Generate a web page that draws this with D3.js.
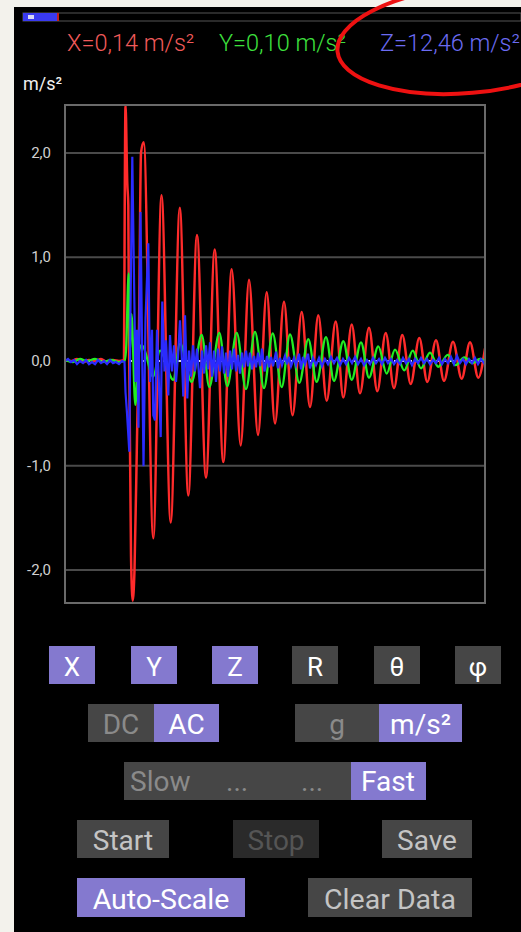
<!DOCTYPE html>
<html>
<head>
<meta charset="utf-8">
<script src="https://cdn.jsdelivr.net/npm/d3@7"></script>
<style>
  html, body { margin: 0; padding: 0; background: #f3f2ec; }
  svg { display: block; }
  text { font-family: Roboto, "Noto Sans", sans-serif; }
</style>
</head>
<body>
<svg id="chart" width="521" height="932"></svg>
<script>
// ---------------- data ----------------
// time in samples (10 ms each), acceleration in m/s²
const readouts = ["X=0,14 m/s²", "Y=0,10 m/s²", "Z=12,46 m/s²"];
const yUnit = "m/s²";
const yTicks = [-2, -1, 0, 1, 2];
const timeDomain = [0, 420];
const valueDomain = [-2.322, 2.457];

const redSamples = [
  [0,0.01],[6,0.0],[12,0.02],[18,-0.01],[24,0.01],[30,0.0],[36,0.02],[42,-0.01],[48,0.01],[54,0.0],[59,0.01],
  [59.7,1.45],[60.5,2.46],[62.3,1.7],[63.3,1.5],[64,0.2],[66,-1.86],[67.7,-2.3],[69.5,-2.0],[72,-0.74],[74,0.3],[76,2.0],[78.7,2.1],
  [88.3,-1.7],[96.5,1.59],[105.7,-1.55],[114.8,1.47],[123.3,-1.29],[132,1.21],[141,-1.12],[149.7,1.07],[158.3,-0.97],
  [166.7,0.88],[175.7,-0.81],[184,0.78],[193,-0.71],[201.7,0.66],[210,-0.6],[219,0.57],[227.5,-0.52],[236.7,0.47],
  [245,-0.44],[253.3,0.44],[261.7,-0.38],[270.7,0.38],[278.3,-0.35],[286.7,0.35],[295,-0.31],[304,0.32],[312.3,-0.29],
  [320.7,0.27],[329,-0.26],[337.3,0.25],[345.7,-0.22],[354.3,0.22],[362.3,-0.2],[371,0.2],[379,-0.19],[388,0.185],
  [396.7,-0.17],[405,0.18],[413.3,-0.16],[420,0.12]
];

const greenSamples = [
  [0,0.01],[8,-0.01],[15,0.02],[22,0.0],[30,0.02],[38,-0.01],[46,0.01],[54,-0.01],[59.5,0.0],
  [61,0.1],[63.7,0.84],[65,0.1],[66.5,0.45],[70.3,-0.42],[73,0.0],[76,0.15],[78,0.14],[88.3,-0.15],[95,0.1],
  [108.3,-0.18],[115,0.17],[126.7,-0.2],[136.7,0.25],[144.3,-0.25],[154.3,0.27],[162.3,-0.24],[171.7,0.27],
  [181,-0.27],[190,0.28],[199,-0.26],[207.7,0.265],[216.7,-0.25],[225,0.255],[234.3,-0.21],[243.3,0.21],
  [251.7,-0.2],[261,0.23],[269,-0.19],[278.3,0.19],[286.7,-0.18],[296,0.18],[304,-0.16],[313.3,0.14],
  [321.7,-0.12],[330,0.11],[339.3,-0.09],[347.7,0.10],[356,-0.07],[365,0.08],[373.3,-0.055],[382.7,0.06],
  [390.7,-0.04],[399.3,0.035],[407.3,-0.02],[415,0.02],[420,0.0]
];

const blueSamples = [
  [0,0.0],[3,0.02],[6,-0.01],[9,0.01],[12,-0.03],[15,0.0],[18,-0.02],[21,0.01],[24,-0.03],[27,-0.01],[30,-0.03],
  [33,0.01],[36,-0.02],[39,0.0],[42,-0.03],[45,0.01],[48,-0.02],[51,-0.01],[54,-0.03],[57,0.0],[59.5,-0.01],
  [60.5,-0.3],[62,-0.5],[64.3,-0.87],[65.5,0.5],[67.3,1.96],[69,0.8],[70.5,-0.2],[72,0.3],[73.5,-0.64],
  [75.5,1.43],[77,0.2],[78.5,-1.01],[80.5,0.4],[83.3,1.13],[85,-0.2],[87,0.3],[88.3,-0.52],[90,-0.57],
  [92,0.3],[93.5,-0.1],[95.7,-0.73],[97.3,0.57],[99.5,-0.1],[101,0.2],[103.3,-0.33],[105,0.25],[107,-0.1],
  [109,0.15],[111,-0.2],[113,0.05],[115,0.39],[117,0.0],[118.3,-0.34],[120,0.44],[122.3,-0.36],[124,0.1],
  [126,-0.15],[128,0.15],[130,-0.1],[132,0.12],[135,-0.26],[137,0.1],[139,-0.12],[141,0.15],[143,-0.08],
  [145,0.18],[147,-0.15],[149,0.1],[151,-0.2],[153,0.12],[155,-0.1],[157,0.14],[159,-0.12],[161,0.08],
  [163,-0.15],[165,0.1],[167,-0.08],[169,0.12],[171,-0.1],[173,0.06],[175,-0.12],[177,0.08],[179,-0.06],
  [181,0.1],[183,-0.05],[185,0.08],[187,-0.08],[189,0.05],[191,-0.06],[193,0.08],[195,-0.05],[197,0.12],
  [199.5,-0.1],[202,0.05],[204,-0.06],[206,0.04],[208,-0.05],[211,0.09],[213,-0.07],[215,0.03],[217,-0.04],
  [220,0.05],[222,-0.03],[224,0.04],[226,-0.05],[229,0.03],[231,-0.04],[234,0.07],[236,-0.08],[238,0.04],
  [240,-0.03],[243,0.07],[245,-0.07],[248,0.03],[251,-0.04],[254,0.03],[257,-0.05],[260,0.02],[263,-0.03],
  [266,0.04],[269,-0.02],[272,0.03],[275,-0.04],[278,0.02],[281,-0.03],[284,0.03],[287,-0.02],[290,0.04],
  [293,-0.03],[296,0.02],[299,-0.04],[302,0.01],[305,-0.03],[308,0.03],[311,-0.02],[314,0.02],[317,-0.03],
  [320,0.03],[323,-0.02],[326,0.02],[329,-0.03],[332,0.01],[335,-0.03],[338,0.03],[341,-0.02],[344,0.02],
  [347,-0.04],[350,0.02],[353,-0.02],[356,0.03],[359,-0.02],[362,0.02],[365,-0.03],[368,0.01],[371,-0.02],
  [374,0.03],[377,-0.03],[380,0.02],[383,-0.02],[386,0.04],[389,-0.03],[392,0.05],[395,-0.02],[398,0.02],
  [401,-0.03],[404,0.02],[407,-0.02],[410,0.03],[413,-0.03],[416,0.02],[419,-0.02],[420,0.0]
];

// buttons: label, active state
const channelButtons = [
  {label:"X", on:true},{label:"Y", on:true},{label:"Z", on:true},
  {label:"R", on:false},{label:"θ", on:false},{label:"φ", on:false}
];
const couplingLabels = [{label:"DC", on:false},{label:"AC", on:true}];
const unitLabels = [{label:"g", on:false},{label:"m/s²", on:true}];
const speedLabels = ["Slow", "...", "...", "Fast"];
const actionButtons = [{label:"Start", state:"normal"},{label:"Stop", state:"disabled"},{label:"Save", state:"normal"}];
const bottomButtons = [{label:"Auto-Scale", state:"on"},{label:"Clear Data", state:"normal"}];

// ---------------- styling / layout ----------------
const C = {
  red: "#ff2b2b", green: "#22ee22", blue: "#2b2bff",
  redText: "#f05a5a", greenText: "#3ee03e", blueText: "#6b6bf2",
  purple: "#8479cf", dark: "#464646", darker: "#2a2a2a"
};
const svg = d3.select("#chart");

// panel background
svg.append("rect").attr("x",14).attr("y",7).attr("width",507).attr("height",925).attr("fill","#000");

// progress bar
svg.append("rect").attr("x",23).attr("y",13).attr("width",498).attr("height",8)
  .attr("fill","#000").attr("stroke","#555").attr("stroke-width",1);
svg.append("rect").attr("x",23).attr("y",13).attr("width",35).attr("height",8).attr("fill","#3a3af0");
svg.append("rect").attr("x",28).attr("y",15).attr("width",6).attr("height",4).attr("fill","#d8d8f4");
svg.append("rect").attr("x",57).attr("y",13).attr("width",2).attr("height",8).attr("fill","#c02020");

// readouts
const readoutX = [67, 219, 380];
const readoutColors = [C.redText, C.greenText, C.blueText];
svg.selectAll("text.readout").data(readouts).join("text")
  .attr("class","readout")
  .attr("x",(d,i)=>readoutX[i]).attr("y",51)
  .attr("font-size",23.5).attr("font-weight",300).attr("fill",(d,i)=>readoutColors[i])
  .text(d=>d);

svg.append("text").attr("x",23).attr("y",90).attr("font-size",18).attr("fill","#f0f0f0").text(yUnit);

// plot
const P = {left:65, top:105, right:485, bottom:603};
const x = d3.scaleLinear().domain(timeDomain).range([P.left, P.right]);
const y = d3.scaleLinear().domain(valueDomain).range([P.bottom, P.top]);

const yAxis = d3.axisLeft(y).tickValues(yTicks)
  .tickSize(-(P.right-P.left)).tickPadding(14)
  .tickFormat(d => d3.format(".1f")(d).replace(".", ",").replace("−","-"));
const gy = svg.append("g").attr("transform",`translate(${P.left},0)`).call(yAxis);
gy.select(".domain").remove();
gy.selectAll(".tick line").attr("stroke", d => d === 0 ? "none" : "#4a4a4a").attr("stroke-width",2);
gy.selectAll(".tick text").attr("fill","#d0d0d0").attr("font-size",15)
  .attr("font-family","Roboto, sans-serif");

// zero dashed line
svg.append("line").attr("x1",P.left).attr("x2",P.right).attr("y1",y(0)).attr("y2",y(0))
  .attr("stroke","#e6e6e6").attr("stroke-width",2).attr("stroke-dasharray","4,3");

svg.append("clipPath").attr("id","clip").append("rect")
  .attr("x",P.left).attr("y",P.top).attr("width",P.right-P.left).attr("height",P.bottom-P.top);

const lineSmooth = d3.line().x(d=>x(d[0])).y(d=>y(d[1])).curve(d3.curveMonotoneX);
const lineSharp = d3.line().x(d=>x(d[0])).y(d=>y(d[1]));
const g = svg.append("g").attr("clip-path","url(#clip)");
g.append("path").datum(redSamples).attr("d",lineSmooth).attr("fill","none").attr("stroke",C.red).attr("stroke-width",2.5);
g.append("path").datum(greenSamples).attr("d",lineSmooth).attr("fill","none").attr("stroke",C.green).attr("stroke-width",2.3);
g.append("path").datum(blueSamples).attr("d",lineSharp).attr("fill","none").attr("stroke",C.blue).attr("stroke-width",2.2);

// plot border
svg.append("rect").attr("x",P.left).attr("y",P.top).attr("width",P.right-P.left).attr("height",P.bottom-P.top)
  .attr("fill","none").attr("stroke","#6a6a6a").attr("stroke-width",2);

// ---------------- buttons ----------------
function button(xp, yp, w, h, label, fill, color, fs) {
  svg.append("rect").attr("x",xp).attr("y",yp).attr("width",w).attr("height",h).attr("fill",fill);
  svg.append("text").attr("x",xp+w/2).attr("y",yp+h/2+11).attr("text-anchor","middle")
    .attr("font-size",fs||28).attr("fill",color).text(label);
}
const chanX = [49, 131, 212, 292, 374, 455];
channelButtons.forEach((b,i)=> button(chanX[i], 646, 46, 38, b.label, b.on?C.purple:C.dark, "#ffffff", 26));

// DC / AC
button(88, 704, 66, 38, couplingLabels[0].label, C.dark, "#8a8a8a");
button(154, 704, 65, 38, couplingLabels[1].label, C.purple, "#ffffff");
// g / m/s²
button(295, 704, 84, 38, unitLabels[0].label, C.dark, "#8a8a8a");
button(379, 704, 83, 38, unitLabels[1].label, C.purple, "#ffffff");

// Slow ... ... Fast
svg.append("rect").attr("x",124).attr("y",762).attr("width",227).attr("height",38).attr("fill",C.dark);
svg.append("rect").attr("x",351).attr("y",762).attr("width",75).attr("height",38).attr("fill",C.purple);
const speedX = [130, 226, 301, 361];
speedLabels.forEach((s,i)=>{
  svg.append("text").attr("x",speedX[i]).attr("y",791)
    .attr("font-size",28).attr("fill", i===3 ? "#ffffff" : "#8a8a8a").text(s);
});

// Start / Stop / Save
const actX = [77, 233, 382], actW = [92, 86, 90];
actionButtons.forEach((b,i)=>{
  const dis = b.state === "disabled";
  button(actX[i], 820, actW[i], 38, b.label, dis?C.darker:C.dark, dis?"#555555":"#c4c4c4");
});

// Auto-Scale / Clear Data
button(77, 878, 168, 39, bottomButtons[0].label, C.purple, "#ffffff", 28.5);
button(308, 878, 164, 39, bottomButtons[1].label, C.dark, "#c4c4c4", 28.5);

// annotation ellipse
svg.append("ellipse").attr("cx",468).attr("cy",40).attr("rx",131).attr("ry",53)
  .attr("transform","rotate(-5 468 40)")
  .attr("fill","none").attr("stroke","#ee1111").attr("stroke-width",4);
</script>
</body>
</html>
